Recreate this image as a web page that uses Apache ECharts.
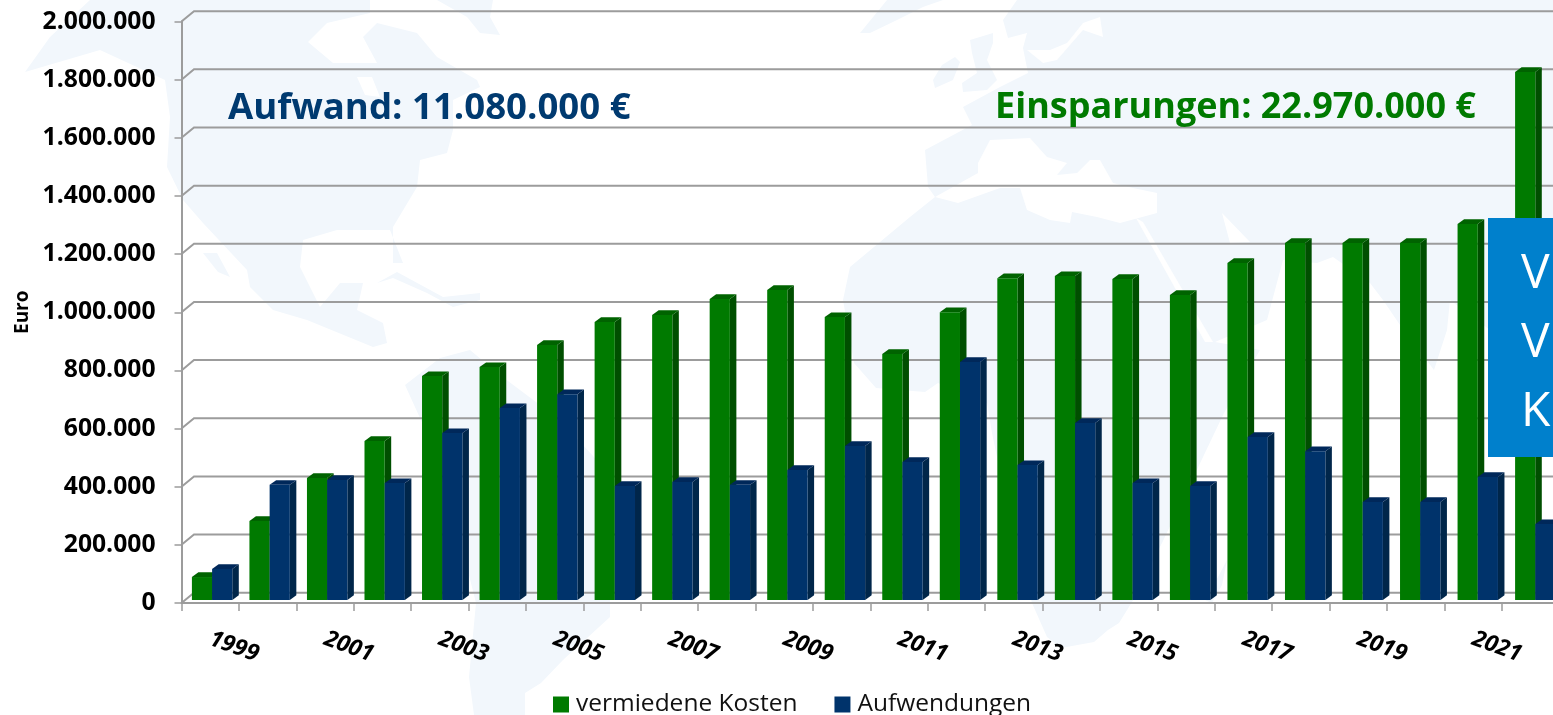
<!DOCTYPE html>
<html>
<head>
<meta charset="utf-8">
<title>vermiedene Kosten</title>
<style>
html, body { margin: 0; padding: 0; background: #fff; overflow: hidden; }
#chart { width: 1553px; height: 715px; }
</style>
<script src="https://cdn.jsdelivr.net/npm/echarts@6/dist/echarts.min.js"></script>
</head>
<body>
<div id="chart"></div>
<script>
var years = ['1999','2000','2001','2002','2003','2004','2005','2006','2007','2008','2009','2010',
             '2011','2012','2013','2014','2015','2016','2017','2018','2019','2020','2021','2022'];
var vermiedeneKosten = [79000,272000,420000,547000,770000,801000,877000,956000,980000,1035000,1066000,973000,
                        846000,990000,1107000,1114000,1104000,1049000,1159000,1228000,1228000,1228000,1293000,1816000];
var aufwendungen = [107000,396000,413000,402000,574000,660000,708000,392000,406000,396000,447000,530000,
                    475000,819000,464000,609000,402000,392000,561000,512000,337000,337000,423000,261000];
var yTicks = [0,200000,400000,600000,800000,1000000,1200000,1400000,1600000,1800000,2000000];

var FONT = '"Open Sans", sans-serif';
var PALE = '#f2f7fc';
var AXIS_GREY = '#9c9c9c';

// 3d look of the old excel chart
var depthX = 6.5, depthY = 4.7, lift = 3;
var wallX = 12.5, wallY = 10.3;
var barDrift = 0.13; // bars run slightly wider than the ticks in the original

function bar3d(offset, front, side, top) {
    return function (params, api) {
        var center = api.coord([api.value(0), 0]);
        var band = api.size([1, 0])[0];
        var x0 = center[0] - band / 2 + offset + api.value(0) * barDrift;
        var w = 20.2;
        var yBase = center[1] - lift;
        var yTop = api.coord([api.value(0), api.value(1)])[1] - lift;
        return {
            type: 'group',
            children: [
                { type: 'polygon', shape: { points: [[x0 + w, yBase], [x0 + w + depthX, yBase - depthY], [x0 + w + depthX, yTop - depthY], [x0 + w, yTop]] }, style: { fill: side } },
                { type: 'polygon', shape: { points: [[x0, yTop], [x0 + depthX, yTop - depthY], [x0 + w + depthX, yTop - depthY], [x0 + w, yTop]] }, style: { fill: top } },
                { type: 'rect', shape: { x: x0, y: yTop, width: w, height: yBase - yTop }, style: { fill: front } }
            ]
        };
    };
}

function wallLine(params, api) {
    var cs = params.coordSys;
    var y = api.coord([0, api.value(1)])[1];
    return {
        type: 'polyline',
        shape: { points: [[cs.x, y], [cs.x + wallX, y - wallY], [cs.x + cs.width, y - wallY]] },
        style: { fill: null, stroke: AXIS_GREY, lineWidth: 2 }
    };
}

// faint world map behind the chart
function land(points, fill) {
    return { type: 'polygon', silent: true, z: -1, shape: { points: points }, style: { fill: fill } };
}
var worldMap = [
    land([[90,0],[370,0],[370,13],[327,23],[308,42],[333,63],[377,63],[363,37],[377,23],[417,33],[437,57],[477,80],[480,87],[453,100],[453,130],[447,153],[420,160],[417,187],[393,227],[393,263],[403,263],[390,230],[337,230],[303,240],[300,267],[320,307],[340,283],[363,283],[357,310],[383,323],[387,343],[373,347],[307,320],[273,310],[250,287],[247,270],[203,223],[183,200],[167,167],[170,117],[165,80],[100,50],[25,72],[50,37]], PALE),
    land([[357,77],[372,77],[380,97],[365,95]], '#fff'),
    land([[437,0],[467,17],[480,33],[500,35],[490,17],[493,0]], PALE),
    land([[203,253],[217,253],[230,277],[218,272]], PALE),
    land([[377,283],[397,272],[443,297],[480,293],[480,300],[453,307],[427,293],[393,278]], PALE),
    land([[440,358],[470,350],[500,375],[560,420],[615,480],[610,560],[610,617],[563,660],[541,683],[525,693],[525,715],[474,715],[469,677],[476,603],[455,520],[430,440],[405,385]], PALE),
    land([[860,33],[887,0],[943,0],[923,7],[897,20],[870,33]], PALE),
    land([[970,40],[993,33],[993,43],[987,60],[997,80],[987,90],[963,92],[962,83],[977,73],[972,53]], PALE),
    land([[942,65],[955,57],[960,62],[953,80],[935,88],[933,80]], PALE),
    land([[1017,0],[1003,20],[1008,38],[1027,33],[1023,48],[1028,73],[1000,87],[963,107],[972,125],[925,150],[928,187],[935,197],[910,217],[850,267],[843,300],[854,363],[876,388],[925,392],[938,383],[987,403],[992,433],[1010,520],[1032,603],[1047,637],[1061,648],[1094,642],[1108,630],[1119,623],[1132,602],[1162,543],[1224,413],[1260,350],[1215,342],[1267,320],[1283,260],[1317,263],[1333,257],[1370,283],[1383,300],[1400,325],[1434,370],[1447,330],[1450,300],[1490,330],[1553,360],[1553,0]], PALE),
    land([[1227,560],[1218,577],[1205,600],[1212,603],[1222,585]], PALE),
    // seas cut back out
    land([[990,140],[1030,138],[1047,157],[1067,163],[1057,175],[1077,173],[1090,160],[1100,160],[1113,183],[1133,188],[1157,193],[1157,213],[1120,223],[1097,217],[1072,212],[1070,223],[1050,220],[1027,210],[1020,188],[1000,188],[958,203],[935,197],[978,173],[978,163]], '#fff'),
    land([[1027,50],[1043,63],[1057,60],[1083,30],[1103,37],[1100,17],[1083,23],[1067,43],[1050,50]], '#fff'),
    land([[1136,218],[1143,222],[1213,342],[1205,342]], '#fff'),
    land([[1222,213],[1250,242],[1230,243]], '#fff')
];

var chart = echarts.init(document.getElementById('chart'));

var options = {
    animation: false,
    textStyle: { fontFamily: FONT },
    grid: { left: 181.5, top: 21.5, width: 1377.6, height: 581.5, outerBoundsMode: 'none' },
    legend: {
        data: ['vermiedene Kosten', 'Aufwendungen'],
        left: 553,
        top: 692,
        padding: 0,
        icon: 'rect',
        itemWidth: 16,
        itemHeight: 16,
        itemGap: 37,
        selectedMode: false,
        textStyle: { fontFamily: FONT, fontSize: 24.5, color: '#111', padding: [0, 0, 0, 2] }
    },
    xAxis: {
        type: 'category',
        data: years,
        axisLine: { lineStyle: { color: AXIS_GREY, width: 2 } },
        axisTick: { show: true, interval: 0, length: 8, alignWithLabel: false, lineStyle: { color: AXIS_GREY, width: 1.5 } },
        axisLabel: {
            interval: 1,
            rotate: -20,
            margin: 35,
            fontFamily: FONT,
            fontSize: 23,
            fontWeight: 'bold',
            fontStyle: 'italic',
            color: '#000'
        }
    },
    yAxis: {
        type: 'value',
        min: 0,
        max: 2000000,
        interval: 200000,
        name: 'Euro',
        nameLocation: 'middle',
        nameGap: 148,
        nameTextStyle: { fontFamily: FONT, fontSize: 19, fontWeight: 'bold', color: '#000' },
        splitLine: { show: false },
        axisLine: { show: true, lineStyle: { color: AXIS_GREY, width: 2 } },
        axisTick: { show: true, length: 7, lineStyle: { color: AXIS_GREY, width: 1.5 } },
        axisLabel: {
            margin: 26,
            padding: [3, 0, 0, 0],
            fontFamily: FONT,
            fontSize: 24.7,
            fontWeight: 'bold',
            color: '#000',
            formatter: function (v) {
                return String(v).replace(/\B(?=(\d{3})+$)/g, '.');
            }
        }
    },
    series: [
        {
            name: 'wall',
            type: 'custom',
            silent: true,
            z: 1,
            renderItem: wallLine,
            data: yTicks.map(function (v) { return [0, v]; })
        },
        {
            name: 'vermiedene Kosten',
            type: 'custom',
            z: 4,
            itemStyle: { color: '#007a00' },
            renderItem: bar3d(10.4, '#007a00', '#004f00', '#006300'),
            data: vermiedeneKosten.map(function (v, i) { return [i, v]; })
        },
        {
            name: 'Aufwendungen',
            type: 'custom',
            z: 5,
            itemStyle: { color: '#00336b' },
            renderItem: bar3d(30.6, '#00336b', '#00264a', '#00285a'),
            data: aufwendungen.map(function (v, i) { return [i, v]; })
        }
    ],
    graphic: worldMap.concat([
        {
            type: 'text', z: 6, left: 228, top: 90,
            style: { text: 'Aufwand: 11.080.000 €', font: 'bold 36.6px ' + FONT, fill: '#003a70' }
        },
        {
            type: 'text', z: 6, left: 995, top: 90,
            style: { text: 'Einsparungen: 22.970.000 €', font: 'bold 36px ' + FONT, fill: '#007a00' }
        },
        {
            type: 'rect', z: 10, silent: true,
            shape: { x: 1488, y: 218, width: 70, height: 239 },
            style: { fill: '#0080cc' }
        },
        {
            type: 'text', z: 11, silent: true, left: 1521, top: 240,
            style: { text: 'V\nV\nK', font: '48px ' + FONT, lineHeight: 69, fill: '#fff' }
        }
    ])
};

chart.setOption(options);
</script>
</body>
</html>
